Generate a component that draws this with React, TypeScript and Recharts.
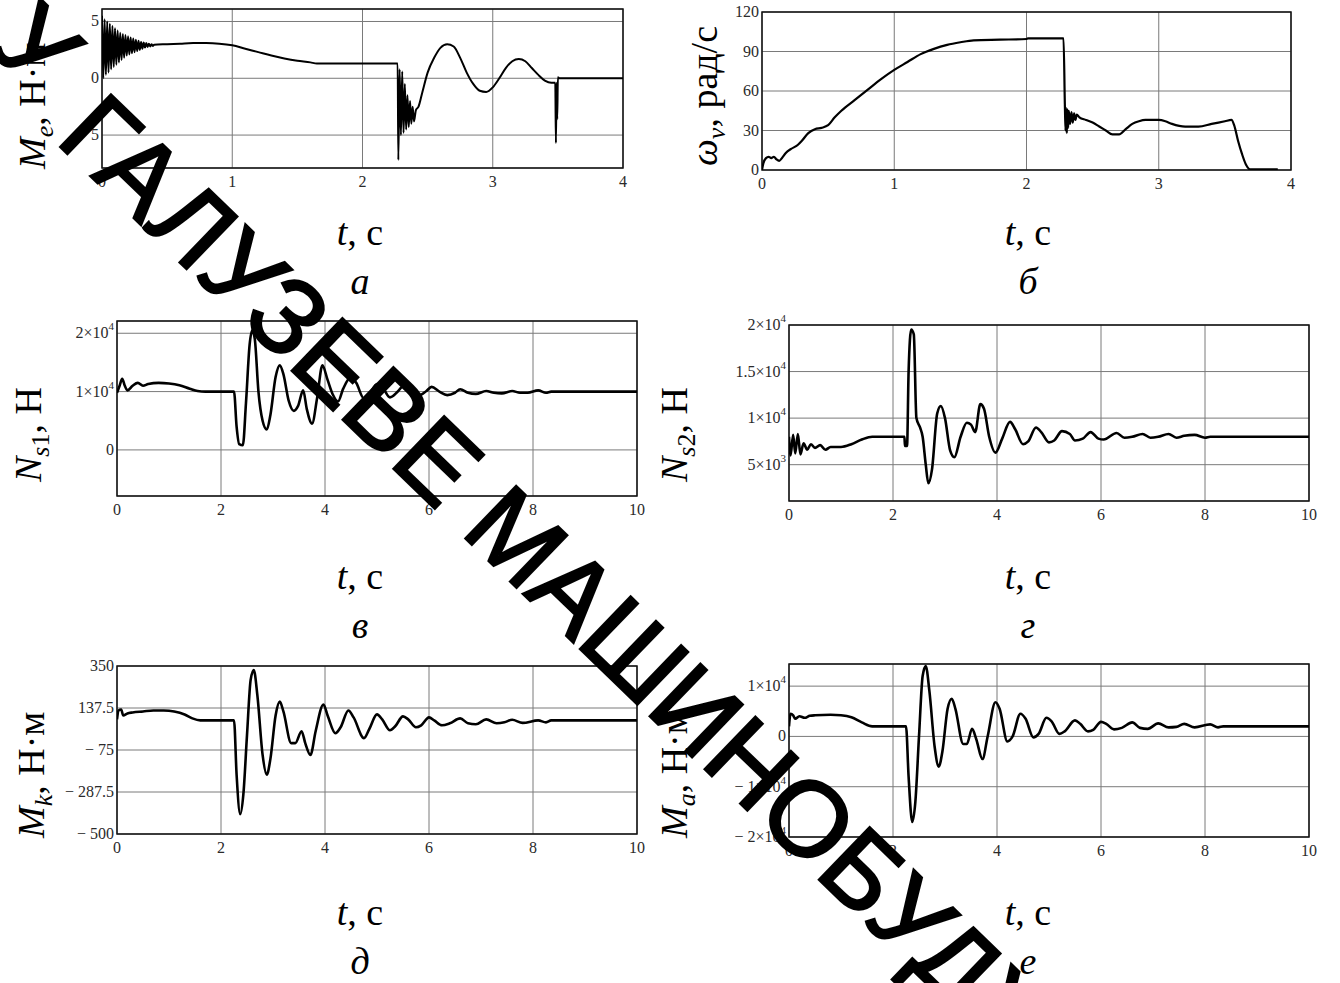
import React from 'react';
import { LineChart, Line, XAxis, YAxis, CartesianGrid, ReferenceArea } from 'recharts';

type Pt = [number, number];

// --- a: electromagnetic torque Me, t in s ---
const mePoints: Pt[] = [
  [0, 5.5], [0.01, 0.0], [0.02, 5.2], [0.03, 0.3], [0.04, 5.0], [0.05, 0.5], [0.06, 4.8], [0.07, 0.8],
  [0.08, 4.6], [0.09, 1.0], [0.1, 4.4], [0.11, 1.2], [0.12, 4.2], [0.13, 1.4], [0.14, 4.0], [0.15, 1.6],
  [0.16, 3.9], [0.17, 1.8], [0.18, 3.8], [0.19, 2.0], [0.2, 3.7], [0.21, 2.1], [0.22, 3.6], [0.23, 2.2],
  [0.24, 3.5], [0.25, 2.3], [0.26, 3.4], [0.27, 2.4], [0.28, 3.3], [0.29, 2.5], [0.3, 3.2], [0.31, 2.6],
  [0.32, 3.15], [0.33, 2.7], [0.34, 3.1], [0.35, 2.75], [0.36, 3.05], [0.37, 2.8], [0.38, 3.0], [0.39, 2.85],
  [0.4, 2.95], [0.5, 3.0], [0.6, 3.05], [0.7, 3.1], [0.8, 3.1], [0.9, 3.05], [1.0, 2.9], [1.1, 2.6],
  [1.2, 2.3], [1.3, 2.0], [1.4, 1.75], [1.5, 1.55], [1.6, 1.4], [1.65, 1.3], [2.27, 1.3], [2.275, -7.2],
  [2.285, 0.8], [2.295, -5.0], [2.305, 0.6], [2.315, -4.8], [2.325, -0.5], [2.335, -4.5], [2.345, -1.5],
  [2.355, -4.3], [2.365, -2.0], [2.375, -4.0], [2.385, -2.5], [2.395, -3.8], [2.41, -2.8], [2.43, -2.5],
  [2.46, -1.2], [2.5, 0.5], [2.55, 1.8], [2.6, 2.7], [2.65, 3.0], [2.7, 2.8], [2.75, 1.8], [2.8, 0.5],
  [2.85, -0.5], [2.9, -1.1], [2.95, -1.2], [3.0, -0.8], [3.05, 0.0], [3.1, 0.9], [3.15, 1.5], [3.2, 1.7],
  [3.25, 1.5], [3.3, 0.9], [3.35, 0.3], [3.4, -0.2], [3.45, -0.4], [3.48, -0.4], [3.485, -5.7], [3.49, -0.4],
  [3.495, -3.6], [3.5, 0.1], [3.51, 0], [4.0, 0],
];

// --- б: angular speed wv ---
const wvPoints: Pt[] = [
  [0, 0], [0.01, 5], [0.03, 9], [0.05, 10], [0.07, 9], [0.09, 10], [0.11, 8], [0.13, 7], [0.15, 9],
  [0.18, 13], [0.22, 16], [0.27, 19], [0.3, 22], [0.35, 28], [0.4, 31], [0.45, 32], [0.5, 34], [0.55, 40],
  [0.6, 45], [0.7, 53], [0.8, 61], [0.9, 69], [1.0, 76], [1.1, 82], [1.2, 88], [1.3, 92], [1.4, 95],
  [1.5, 97], [1.6, 98.5], [1.8, 99], [2.0, 99.5], [2.01, 100], [2.28, 100], [2.29, 50], [2.295, 30],
  [2.3, 47], [2.305, 28], [2.31, 46], [2.315, 32], [2.32, 45], [2.33, 35], [2.34, 44], [2.35, 36],
  [2.36, 43], [2.37, 38], [2.38, 42], [2.4, 40], [2.45, 38], [2.5, 36], [2.55, 33], [2.6, 30], [2.65, 27],
  [2.7, 27], [2.75, 31], [2.8, 35], [2.85, 37], [2.9, 38], [3.0, 38], [3.05, 37], [3.1, 35], [3.2, 33],
  [3.3, 33], [3.4, 35], [3.5, 37], [3.55, 38], [3.57, 34], [3.6, 22], [3.63, 12], [3.66, 4], [3.69, 0.5],
  [3.75, 0.5], [3.9, 0.5],
];

// --- в: Ns1 ---
const ns1Points: Pt[] = [
  [0, 9800], [0.05, 11000], [0.1, 12200], [0.15, 11000], [0.2, 10200], [0.3, 11000], [0.4, 11500],
  [0.5, 11000], [0.6, 11300], [0.8, 11500], [1.0, 11400], [1.2, 11100], [1.4, 10500], [1.55, 10100],
  [1.7, 10000], [2.25, 10000], [2.3, 4000], [2.35, 1000], [2.42, 800], [2.48, 8000], [2.55, 18000],
  [2.6, 20500], [2.65, 19000], [2.72, 10000], [2.8, 5000], [2.88, 3500], [2.95, 6000], [3.05, 12500],
  [3.13, 14500], [3.2, 13000], [3.3, 8500], [3.4, 6700], [3.48, 7500], [3.58, 10200], [3.65, 7000],
  [3.75, 4500], [3.85, 9000], [3.95, 14500], [4.05, 12000], [4.15, 9500], [4.25, 8300], [4.35, 10500],
  [4.5, 12500], [4.6, 11500], [4.75, 8800], [4.85, 9500], [5.0, 11300], [5.1, 10800], [5.25, 9000],
  [5.4, 10000], [5.5, 10900], [5.65, 10200], [5.8, 9300], [5.95, 10100], [6.05, 10800], [6.2, 10000],
  [6.35, 9400], [6.5, 9800], [6.6, 10400], [6.75, 9800], [6.9, 9600], [7.1, 10100], [7.25, 9800],
  [7.4, 9700], [7.6, 10100], [7.75, 9800], [7.9, 9800], [8.1, 10200], [8.25, 9800], [8.35, 10000],
  [10, 10000],
];

// --- г: Ns2 ---
const ns2Points: Pt[] = [
  [0, 8000], [0.03, 6000], [0.08, 8200], [0.12, 6200], [0.17, 8300], [0.22, 6100], [0.28, 7300],
  [0.35, 6600], [0.42, 7200], [0.5, 6800], [0.6, 7100], [0.7, 6600], [0.8, 6900], [1.0, 6900],
  [1.2, 7200], [1.4, 7700], [1.6, 8000], [2.22, 8000], [2.23, 7000], [2.27, 7000], [2.3, 15000],
  [2.35, 19500], [2.4, 19000], [2.45, 10000], [2.52, 9000], [2.57, 8000], [2.63, 5000], [2.68, 3000],
  [2.75, 4500], [2.85, 10500], [2.92, 11300], [3.0, 10000], [3.1, 6500], [3.18, 5800], [3.3, 8000],
  [3.42, 9500], [3.5, 9300], [3.58, 8500], [3.68, 11500], [3.75, 11000], [3.85, 8000], [3.97, 6300],
  [4.1, 7800], [4.25, 9600], [4.35, 8800], [4.5, 7200], [4.6, 7500], [4.75, 9000], [4.85, 8500],
  [5.0, 7400], [5.1, 7600], [5.25, 8600], [5.4, 8300], [5.5, 7600], [5.65, 7800], [5.8, 8500],
  [5.95, 7800], [6.05, 7700], [6.3, 8400], [6.45, 7900], [6.6, 8000], [6.8, 8300], [6.95, 7900],
  [7.1, 8000], [7.3, 8300], [7.45, 7900], [7.6, 8100], [7.8, 8200], [8.0, 7900], [8.1, 8000], [10, 8000],
];

// --- д: Mk ---
const mkPoints: Pt[] = [
  [0, 80], [0.03, 125], [0.08, 130], [0.12, 100], [0.2, 110], [0.3, 115], [0.5, 120], [0.7, 125],
  [0.9, 125], [1.1, 120], [1.3, 105], [1.45, 85], [1.6, 75], [2.25, 75], [2.3, -200], [2.37, -400],
  [2.43, -300], [2.5, 0], [2.57, 280], [2.63, 330], [2.7, 200], [2.8, -100], [2.88, -200], [2.95, -120],
  [3.05, 100], [3.13, 170], [3.2, 120], [3.35, -40], [3.43, -40], [3.55, 20], [3.62, -40], [3.72, -100],
  [3.82, 20], [3.97, 155], [4.05, 100], [4.2, 10], [4.3, 40], [4.45, 125], [4.55, 90], [4.75, -15],
  [4.85, 30], [5.0, 105], [5.1, 80], [5.25, 25], [5.35, 45], [5.5, 95], [5.6, 80], [5.75, 40], [5.85, 50],
  [6.0, 90], [6.1, 75], [6.25, 50], [6.4, 60], [6.6, 85], [6.75, 60], [6.9, 55], [7.1, 80], [7.3, 60],
  [7.45, 65], [7.6, 78], [7.8, 62], [8.1, 75], [8.25, 65], [8.35, 75], [10, 75],
];

// --- е: Ma ---
const maPoints: Pt[] = [
  [0, 2000], [0.03, 4500], [0.08, 4200], [0.12, 3500], [0.2, 4000], [0.3, 3700], [0.4, 4100],
  [0.5, 4200], [0.8, 4300], [1.0, 4200], [1.2, 3800], [1.4, 2800], [1.6, 2000], [2.25, 2000],
  [2.3, -8000], [2.37, -17000], [2.43, -13000], [2.5, 0], [2.57, 12000], [2.63, 14000], [2.7, 9000],
  [2.8, -2000], [2.88, -6000], [2.95, -3000], [3.05, 5500], [3.13, 7500], [3.2, 5500], [3.35, -1500],
  [3.42, -1500], [3.52, 1500], [3.6, -500], [3.72, -4500], [3.82, 0], [3.97, 6800], [4.05, 5500],
  [4.2, -1000], [4.3, 0], [4.45, 4500], [4.55, 3500], [4.7, -200], [4.8, 500], [4.95, 3700], [5.05, 3000],
  [5.2, 500], [5.3, 1000], [5.5, 3200], [5.6, 2500], [5.75, 1000], [5.85, 1300], [6.0, 2900], [6.1, 2500],
  [6.25, 1400], [6.4, 1700], [6.6, 2800], [6.75, 1700], [6.9, 1500], [7.1, 2600], [7.3, 1800],
  [7.45, 1900], [7.6, 2500], [7.8, 1800], [8.1, 2400], [8.25, 1800], [8.35, 2000], [10, 2000],
];

// axes
const xTicks4 = [0, 1, 2, 3, 4];
const xTicks10 = [0, 2, 4, 6, 8, 10];
const meYTicks = [-5, 0, 5];
const meYLabels = ['− 5', '0', '5'];
const wvYTicks = [0, 30, 60, 90, 120];
const wvYLabels = ['0', '30', '60', '90', '120'];
const ns1YTicks = [0, 10000, 20000];
const ns1YLabels = ['0', '1×10^4', '2×10^4'];
const ns2YTicks = [5000, 10000, 15000, 20000];
const ns2YLabels = ['5×10^3', '1×10^4', '1.5×10^4', '2×10^4'];
const mkYTicks = [-500, -287.5, -75, 137.5, 350];
const mkYLabels = ['− 500', '− 287.5', '− 75', '137.5', '350'];
const maYTicks = [-20000, -10000, 0, 10000];
const maYLabels = ['− 2×10^4', '− 1×10^4', '0', '1×10^4'];

const serif = '"Liberation Serif", "Times New Roman", serif';
const ML = 110;
const MR = 25;
const MT = 18;
const MB = 32;

interface PanelProps {
  points: Pt[];
  x: number;
  y: number;
  w: number;
  h: number;
  xTicks: number[];
  yDomain: [number, number];
  yTicks: number[];
  yLabels: string[];
  lineWidth: number;
}

const makeYTick = (ticks: number[], labels: string[]) => (props: any) => {
  const { x, y, payload } = props;
  const i = ticks.indexOf(payload.value);
  const label = i >= 0 ? labels[i] : String(payload.value);
  const [base, exp] = label.split('^');
  return (
    <text x={x} y={y} dy={5} textAnchor="end" fontFamily={serif} fontSize={16} fill="#2a2a2a">
      {base}
      {exp && (
        <tspan dy={-8} fontSize={11}>
          {exp}
        </tspan>
      )}
    </text>
  );
};

const renderXTick = (props: any) => {
  const { x, y, payload } = props;
  return (
    <text x={x} y={y} dy={15} textAnchor="middle" fontFamily={serif} fontSize={16} fill="#2a2a2a">
      {payload.value}
    </text>
  );
};

function Panel({ points, x, y, w, h, xTicks, yDomain, yTicks, yLabels, lineWidth }: PanelProps) {
  const data = points.map(([t, v]) => ({ t, v }));
  const xMax = xTicks[xTicks.length - 1];
  return (
    <div style={{ position: 'absolute', left: x - ML, top: y - MT }}>
      <LineChart
        width={w + ML + MR}
        height={h + MT + MB}
        data={data}
        margin={{ left: 0, right: MR, top: MT, bottom: 0 }}
      >
        <CartesianGrid stroke="#7a7a7a" strokeWidth={1} />
        <XAxis
          type="number"
          dataKey="t"
          domain={[0, xMax]}
          ticks={xTicks}
          interval={0}
          height={MB}
          tickSize={0}
          tickMargin={4}
          axisLine={false}
          tick={renderXTick}
          allowDataOverflow
        />
        <YAxis
          type="number"
          domain={yDomain}
          ticks={yTicks}
          interval={0}
          width={ML}
          tickSize={0}
          tickMargin={3}
          axisLine={false}
          tick={makeYTick(yTicks, yLabels)}
          allowDataOverflow
        />
        <Line
          type="monotone"
          dataKey="v"
          stroke="#000"
          strokeWidth={lineWidth}
          dot={false}
          isAnimationActive={false}
        />
        <ReferenceArea
          x1={0}
          x2={xMax}
          y1={yDomain[0]}
          y2={yDomain[1]}
          fill="none"
          stroke="#111"
          strokeWidth={1.5}
          ifOverflow="visible"
        />
      </LineChart>
    </div>
  );
}

function YLabel({ x, y, main, sub, subUpright, unit }: { x: number; y: number; main: string; sub: string; subUpright?: string; unit: string }) {
  return (
    <text transform={`translate(${x},${y}) rotate(-90)`} fontFamily={serif} fontSize={38} fill="#000">
      <tspan fontStyle="italic">{main}</tspan>
      <tspan fontStyle="italic" fontSize={26} dy={8}>{sub}</tspan>
      {subUpright && <tspan fontSize={26}>{subUpright}</tspan>}
      <tspan dy={-8}>{`, ${unit}`}</tspan>
    </text>
  );
}

function TLabel({ x, y, letter }: { x: number; y: number; letter: string }) {
  return (
    <g fontFamily={serif} fontSize={38} fill="#000">
      <text x={x} y={y} textAnchor="middle">
        <tspan fontStyle="italic">t</tspan>, с
      </text>
      <text x={x} y={y + 49} textAnchor="middle" fontStyle="italic">
        {letter}
      </text>
    </g>
  );
}

export default function App() {
  return (
    <div style={{ position: 'absolute', left: 0, top: 0, width: 1340, height: 983, background: '#fff', overflow: 'hidden' }}>
      <Panel points={mePoints} x={102} y={9} w={521} h={159} xTicks={xTicks4} yDomain={[-7.9, 6.1]} yTicks={meYTicks} yLabels={meYLabels} lineWidth={2} />
      <Panel points={wvPoints} x={762} y={12} w={529} h={158} xTicks={xTicks4} yDomain={[0, 120]} yTicks={wvYTicks} yLabels={wvYLabels} lineWidth={2.2} />
      <Panel points={ns1Points} x={117} y={321} w={520} h={175} xTicks={xTicks10} yDomain={[-7900, 22100]} yTicks={ns1YTicks} yLabels={ns1YLabels} lineWidth={2.6} />
      <Panel points={ns2Points} x={789} y={325} w={520} h={176} xTicks={xTicks10} yDomain={[1100, 20000]} yTicks={ns2YTicks} yLabels={ns2YLabels} lineWidth={2.6} />
      <Panel points={mkPoints} x={117} y={666} w={520} h={168} xTicks={xTicks10} yDomain={[-500, 350]} yTicks={mkYTicks} yLabels={mkYLabels} lineWidth={2.6} />
      <Panel points={maPoints} x={789} y={664} w={520} h={173} xTicks={xTicks10} yDomain={[-20000, 14400]} yTicks={maYTicks} yLabels={maYLabels} lineWidth={2.6} />

      <svg width={1340} height={983} style={{ position: 'absolute', left: 0, top: 0, pointerEvents: 'none' }}>
        <YLabel x={45} y={169} main="M" sub="e" unit="Н·м" />
        <YLabel x={717} y={166} main="ω" sub="v" unit="рад/с" />
        <YLabel x={41} y={482} main="N" sub="s" subUpright="1" unit="Н" />
        <YLabel x={687} y={482} main="N" sub="s" subUpright="2" unit="Н" />
        <YLabel x={44} y={838} main="M" sub="k" unit="Н·м" />
        <YLabel x={687} y={838} main="M" sub="a" unit="Н·м" />

        <TLabel x={360} y={245} letter="а" />
        <TLabel x={1028} y={245} letter="б" />
        <TLabel x={360} y={589} letter="в" />
        <TLabel x={1028} y={589} letter="г" />
        <TLabel x={360} y={925} letter="д" />
        <TLabel x={1028} y={925} letter="е" />

        {/* diagonal watermark */}
        <g transform="translate(54,141) rotate(44)" fontFamily='"Liberation Sans", Arial, sans-serif' fontSize={106} fill="#000" stroke="#000" strokeWidth={2.5}>
          <text x={-45} dy={-20} textAnchor="end">У</text>
          <text x={0}>ГАЛУЗЕВЕ МАШИНОБУДУВАННЯ</text>
        </g>
      </svg>
    </div>
  );
}
